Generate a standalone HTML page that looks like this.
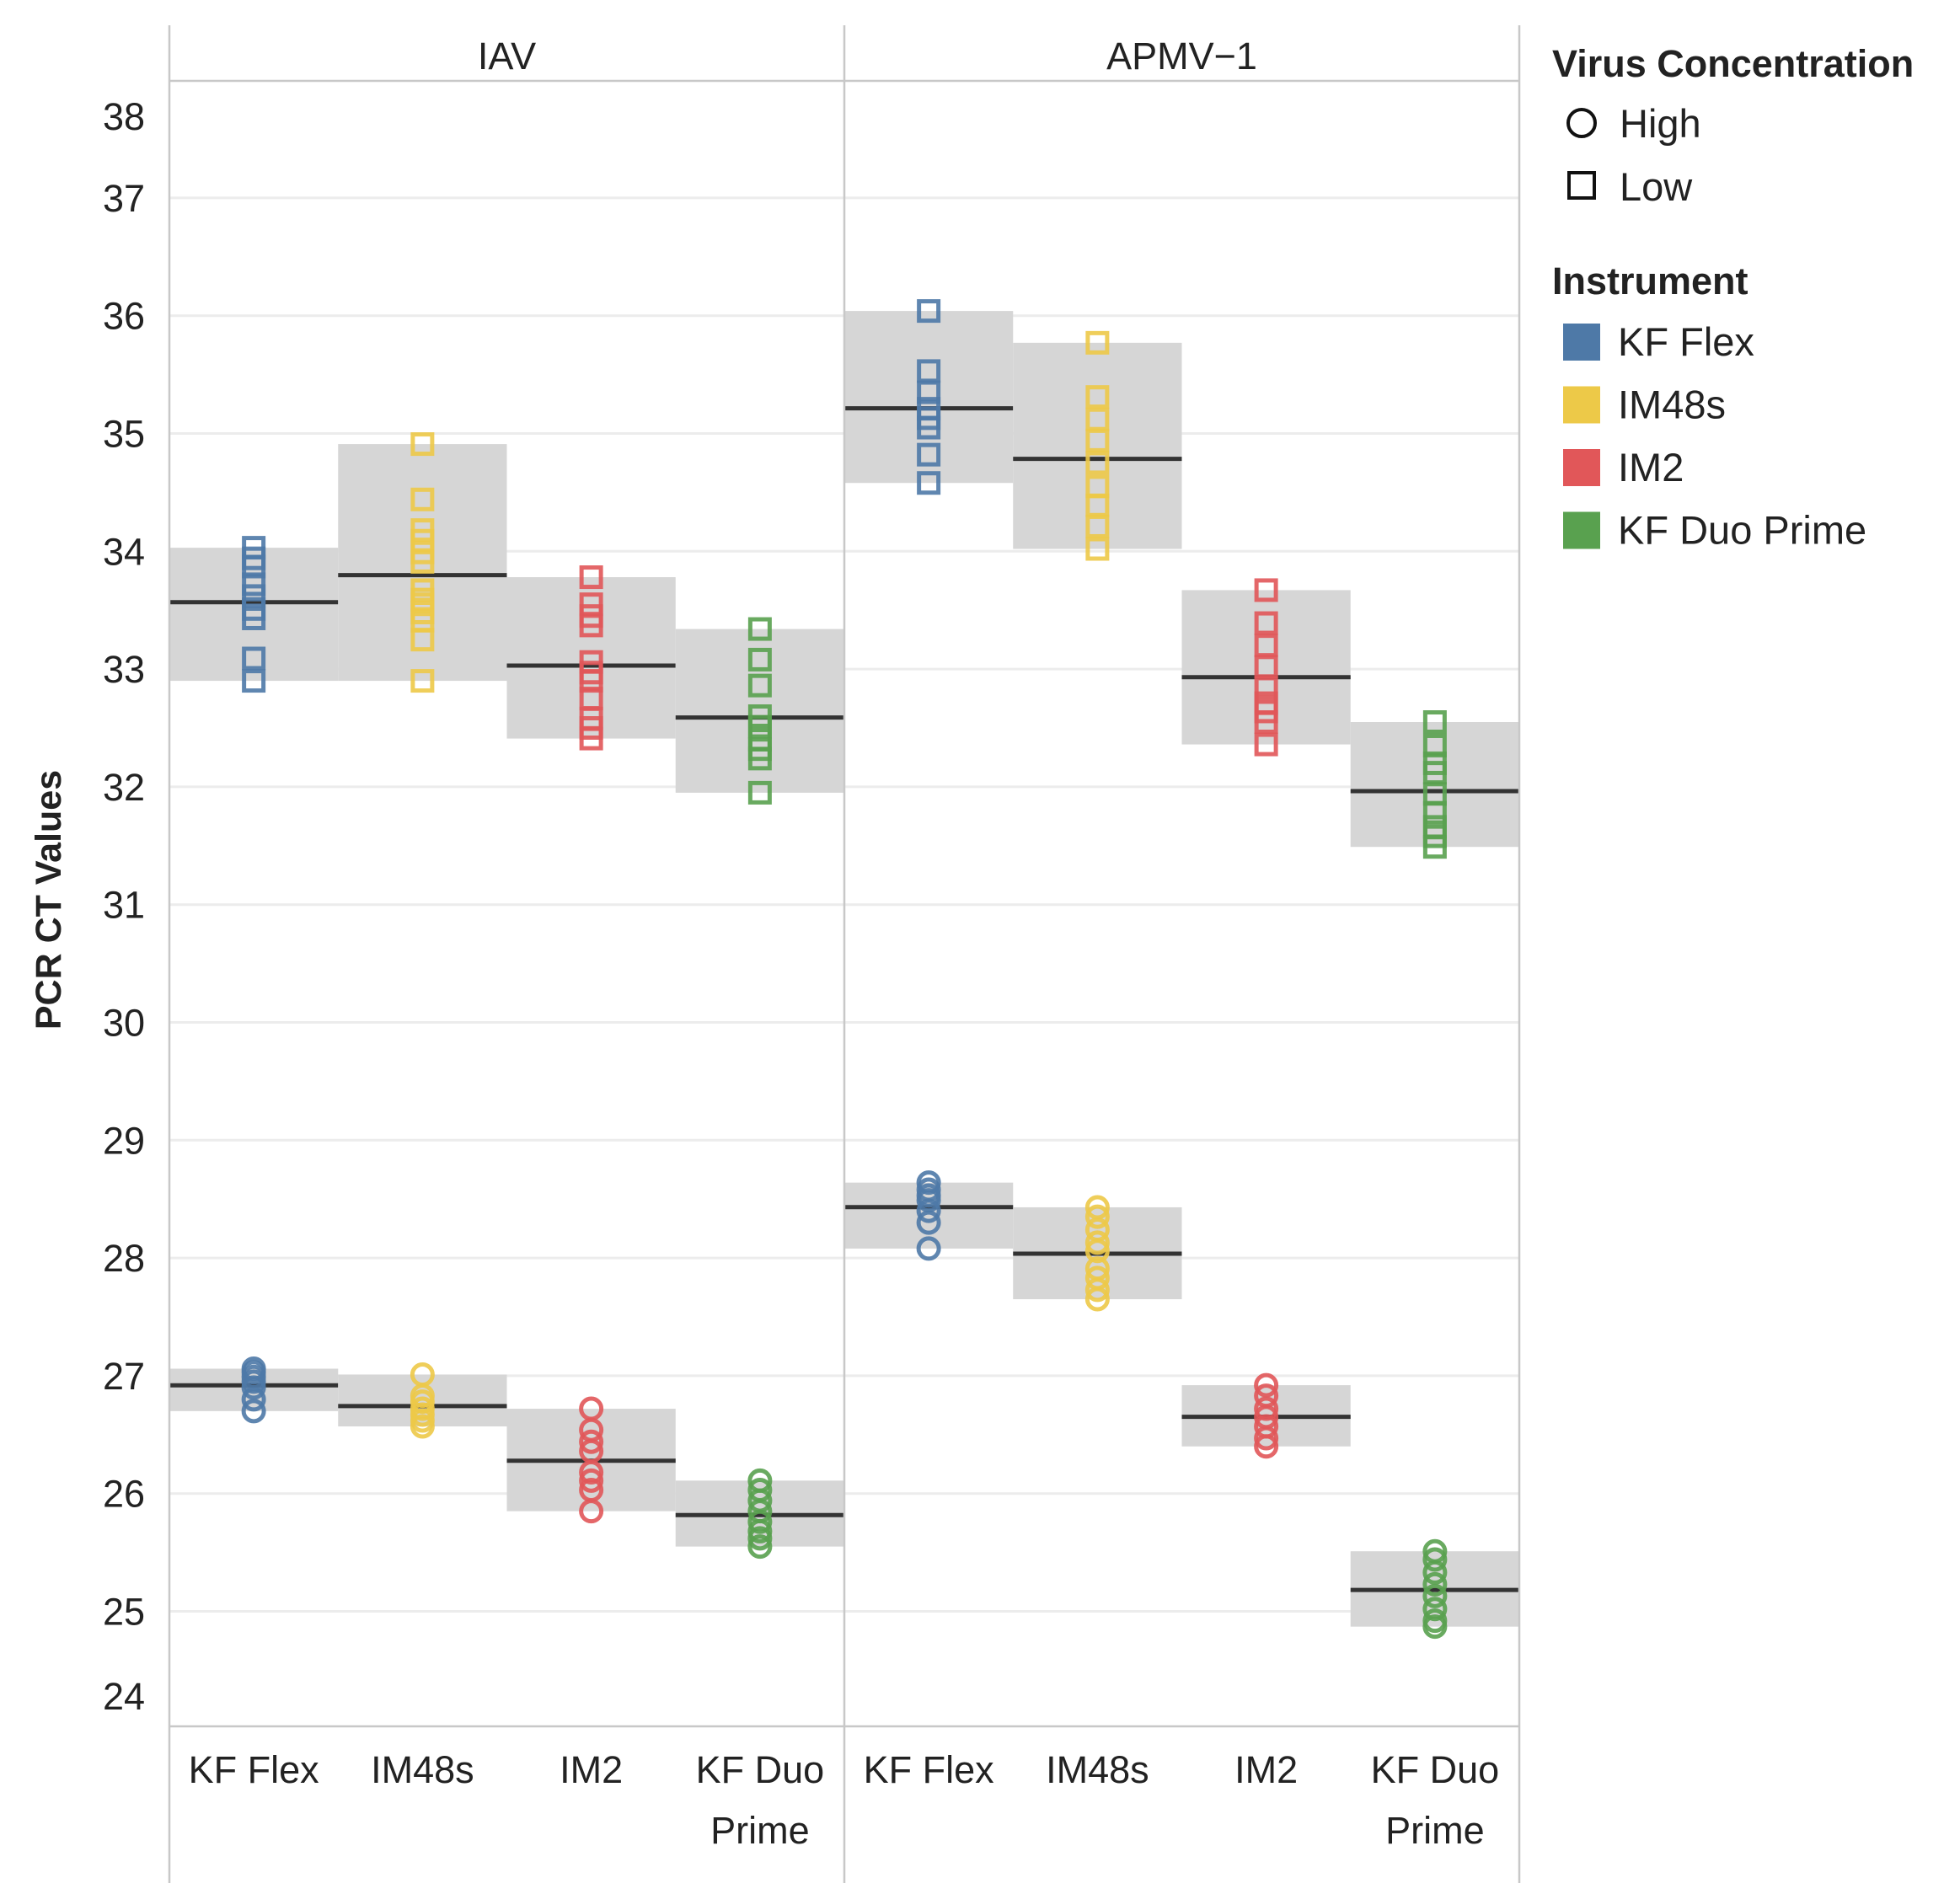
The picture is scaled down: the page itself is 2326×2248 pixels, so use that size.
<!DOCTYPE html>
<html><head><meta charset="utf-8">
<style>
body{margin:0;background:#fff;}
svg text{font-family:"Liberation Sans",sans-serif;fill:#222;}
</style></head>
<body>
<svg id="chart" width="2326" height="2243" viewBox="0 0 2326 2243" xmlns="http://www.w3.org/2000/svg">
<g id="grid"></g>
<g id="bands"></g>
<g id="marks"></g>
<g id="frame"></g>
<g id="labels"></g>
<g id="legend"></g>
</svg>
<script>
const panels = ["IAV", "APMV\u22121"];
const instruments = ["KF Flex", "IM48s", "IM2", "KF Duo Prime"];
const yTicks = [24,25,26,27,28,29,30,31,32,33,34,35,36,37,38];
const colors = ["#4e79a7", "#edc948", "#e15759", "#59a14f"];
// Low concentration (squares): [panel][instrument]
const lowIAV = [
  [34.03,33.94,33.87,33.72,33.62,33.51,33.43,33.09,32.90],
  [34.91,34.44,34.18,34.09,33.99,33.91,33.67,33.59,33.55,33.48,33.41,33.25,32.90],
  [33.78,33.55,33.45,33.37,33.06,32.97,32.90,32.75,32.58,32.50,32.41],
  [33.34,33.08,32.86,32.60,32.51,32.40,32.32,32.24,31.95]
];
const lowAPMV = [
  [36.04,35.53,35.35,35.21,35.13,35.05,34.82,34.58],
  [35.77,35.31,35.12,34.94,34.75,34.55,34.39,34.21,34.02],
  [33.67,33.39,33.20,33.02,32.84,32.71,32.64,32.55,32.36],
  [32.55,32.35,32.20,32.12,31.94,31.78,31.66,31.58,31.49]
];
// High concentration (circles)
const highIAV = [
  [27.06,27.03,26.99,26.95,26.90,26.80,26.70],
  [27.01,26.83,26.78,26.72,26.67,26.62,26.57],
  [26.72,26.54,26.44,26.36,26.18,26.11,26.03,25.85],
  [26.11,26.03,25.94,25.85,25.76,25.68,25.62,25.55]
];
const highAPMV = [
  [28.64,28.58,28.53,28.49,28.40,28.30,28.08],
  [28.43,28.35,28.24,28.13,28.06,27.91,27.83,27.73,27.65],
  [26.92,26.83,26.72,26.65,26.57,26.47,26.40],
  [25.51,25.44,25.33,25.23,25.13,25.02,24.92,24.87]
];
const lowData = [lowIAV, lowAPMV];
const highData = [highIAV, highAPMV];

const NS = "http://www.w3.org/2000/svg";
const plotTop = 96, plotBottom = 2049, left = 201, panelW = 801, catW = panelW/4;
function y(v){ return 1912.5 - (v-25)*139.8; }
function xCat(p,i){ return left + p*panelW + i*catW; }
function mk(tag, attrs, parent){ const e=document.createElementNS(NS,tag); for(const k in attrs) e.setAttribute(k,attrs[k]); parent.appendChild(e); return e; }
const G = id => document.getElementById(id);

yTicks.forEach(t=>{
  if(t===24||t===38) return;
  const l = mk("line",{x1:left,x2:left+2*panelW,y1:y(t),y2:y(t),stroke:"#ececec","stroke-width":3},G("grid"));
  
  
});
yTicks.forEach(t=>{
  let yy = y(t)+16;
  if(t===38) yy = 154; if(t===24) yy = 2029;
  const tx = mk("text",{x:172,y:yy,"text-anchor":"end","font-size":45},G("labels"));
  tx.textContent = t;
  
  
});
function stats(a){ const m=a.reduce((s,v)=>s+v,0)/a.length; return {m, lo:Math.min(...a), hi:Math.max(...a)}; }
[lowData, highData].forEach((ds, di)=>{
  ds.forEach((pd,p)=>{
    pd.forEach((vals,i)=>{
      const s = stats(vals), x0 = xCat(p,i);
      const b = mk("rect",{x:x0,y:y(s.hi),width:catW,height:y(s.lo)-y(s.hi),fill:"#d6d6d6"},G("bands"));
      
      
      const cx = x0 + catW/2;
      vals.forEach(v=>{
        let m;
        if(di===0) m = mk("rect",{x:cx-11.5,y:y(v)-11.5,width:23,height:23,fill:"none",stroke:colors[i],"stroke-width":5,opacity:0.9},G("marks"));
        else m = mk("circle",{cx:cx,cy:y(v),r:12,fill:"none",stroke:colors[i],"stroke-width":5,opacity:0.9},G("marks"));
        
        
      });
      const ml = mk("line",{x1:x0,x2:x0+catW,y1:y(s.m),y2:y(s.m),stroke:"#333","stroke-width":5},G("bands"));
      
      
    });
  });
});
[[left,30,left,2235],[left+panelW,30,left+panelW,2235],[left+2*panelW,30,left+2*panelW,2235],
 [left,plotTop,left+2*panelW,plotTop],[left,plotBottom,left+2*panelW,plotBottom]].forEach((c,k)=>{
  const l = mk("line",{x1:c[0],y1:c[1],x2:c[2],y2:c[3],stroke:"#c8c8c8","stroke-width":2.5},G("frame"));
  
  
});
panels.forEach((p,pi)=>{
  const t = mk("text",{x:left+pi*panelW+panelW/2,y:82,"text-anchor":"middle","font-size":45},G("labels"));
  t.textContent = p;
  
  
  instruments.forEach((ins,i)=>{
    const cx = xCat(pi,i)+catW/2;
    const parts = ins==="KF Duo Prime" ? ["KF Duo","Prime"] : [ins];
    parts.forEach((s,k)=>{
      const tx = mk("text",{x:cx,y:2116+k*72,"text-anchor":"middle","font-size":45},G("labels"));
      tx.textContent = s;
      
      
    });
  });
});
const yt = mk("text",{x:0,y:0,"text-anchor":"middle","font-size":43,"font-weight":"bold",transform:"translate(72,1068) rotate(-90)"},G("labels"));
yt.textContent = "PCR CT Values";


const L = G("legend");
let t1 = mk("text",{x:1842,y:91,"font-size":45,"font-weight":"bold"},L); t1.textContent="Virus Concentration";


let c1 = mk("circle",{cx:1877,cy:146,r:16,fill:"none",stroke:"#111","stroke-width":4},L);


let th = mk("text",{x:1922,y:163,"font-size":47},L); th.textContent="High";


let s1 = mk("rect",{x:1862,y:205,width:30,height:30,fill:"none",stroke:"#111","stroke-width":4},L);


let tl = mk("text",{x:1922,y:238,"font-size":47},L); tl.textContent="Low";


let t2 = mk("text",{x:1842,y:349,"font-size":45,"font-weight":"bold"},L); t2.textContent="Instrument";


instruments.forEach((ins,i)=>{
  const yy = 406 + i*74.5;
  const r = mk("rect",{x:1855,y:yy-22,width:44,height:44,fill:colors[i]},L);
  
  
  const tx = mk("text",{x:1920,y:yy+16,"font-size":47},L);
  tx.textContent = ins;
  
  
});
</script>
</body></html>
